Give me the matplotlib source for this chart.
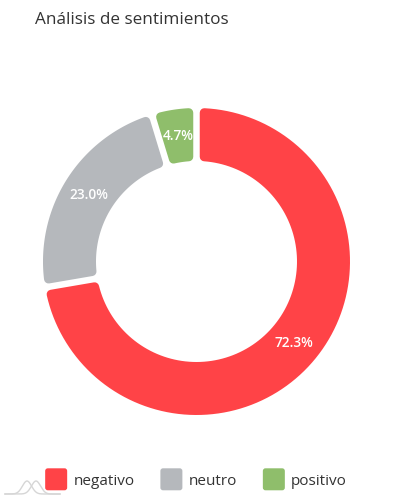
import numpy as np
import matplotlib
matplotlib.use("Agg")
import matplotlib.pyplot as plt
from matplotlib.path import Path
from matplotlib.patches import PathPatch, FancyBboxPatch, Patch
from matplotlib.legend_handler import HandlerPatch

categories = ["negativo", "neutro", "positivo"]
values = [72.3, 23.0, 4.7]
colors = ["#FF4347", "#B5B8BC", "#8FBE6B"]
title = "Análisis de sentimientos"

plt.rcParams['font.family'] = ['Open Sans', 'DejaVu Sans']

W, H = 393, 500
fig = plt.figure(figsize=(W / 100, H / 100), dpi=100)
ax = fig.add_axes([0, 0, 1, 1])

cx, cy = 196.5, H - 261.5
R = 153.5
ring = 53.0
corner = 4.5
gap = 6.5

wedges, texts, autotexts = ax.pie(
    values, colors=colors, startangle=90, counterclock=False,
    radius=R, center=(cx, cy), frame=True,
    wedgeprops=dict(width=ring, linewidth=0),
    autopct='%1.1f%%', pctdistance=(R - ring / 2) / R,
    textprops=dict(color='white', fontsize=9.8, fontweight='semibold'))
ax.set_xlim(0, W)
ax.set_ylim(0, H)
ax.axis('off')

d = gap / 2 + corner
Ro = R - corner
Ri = R - ring + corner
for w, col in zip(wedges, colors):
    t1, t2 = np.radians(w.theta1), np.radians(w.theta2)
    ao1 = t1 + np.arcsin(d / Ro)
    ao2 = t2 - np.arcsin(d / Ro)
    ai1 = t1 + np.arcsin(d / Ri)
    ai2 = t2 - np.arcsin(d / Ri)
    outer = np.linspace(ao1, ao2, 120)
    inner = np.linspace(ai2, ai1, 120)
    xs = np.concatenate([cx + Ro * np.cos(outer), cx + Ri * np.cos(inner)])
    ys = np.concatenate([cy + Ro * np.sin(outer), cy + Ri * np.sin(inner)])
    verts = np.column_stack([xs, ys])
    verts = np.vstack([verts, verts[:1]])
    codes = [Path.MOVETO] + [Path.LINETO] * (len(verts) - 2) + [Path.CLOSEPOLY]
    p = PathPatch(Path(verts, codes), facecolor=col, edgecolor=col,
                  linewidth=2 * corner * 72 / 100, joinstyle='round', zorder=1)
    ax.add_patch(p)
    w.set_visible(False)

for t in autotexts:
    t.set_zorder(5)

fig.text(35 / W, 1 - 20 / H, title, fontsize=12.3, color='#333333',
         ha='left', va='center')

# faint watermark logo, bottom-left
wx = np.linspace(5, 60, 200)
for mu in (27, 36):
    wy = 494 - 13 * np.exp(-((wx - mu) / 6.5) ** 2)
    ax.plot(wx, H - wy, color='#D6D6D6', lw=1.0, zorder=0)

SQ = 22 * 72 / 100  # square size in points


class RoundHandler(HandlerPatch):
    def create_artists(self, legend, orig_handle, xdescent, ydescent,
                       width, height, fontsize, trans):
        x0 = -xdescent + (width - SQ) / 2
        y0 = -ydescent + height / 2 - SQ / 2
        p = FancyBboxPatch((x0, y0), SQ, SQ,
                           boxstyle="round,pad=0,rounding_size=%f" % (SQ * 0.12),
                           facecolor=orig_handle.get_facecolor(), edgecolor='none',
                           transform=trans)
        return [p]


fs = 11
handles = [Patch(facecolor=c, label=l) for c, l in zip(colors, categories)]
fig.legend(handles=handles, loc='center', bbox_to_anchor=(196.0 / W, 1 - 480.5 / H),
           ncol=3, frameon=False, fontsize=fs, handlelength=SQ / fs, handleheight=1.0,
           handletextpad=0.4, columnspacing=1.7, labelcolor='#333333',
           handler_map={Patch: RoundHandler()})

fig.savefig("out.png", dpi=100)
